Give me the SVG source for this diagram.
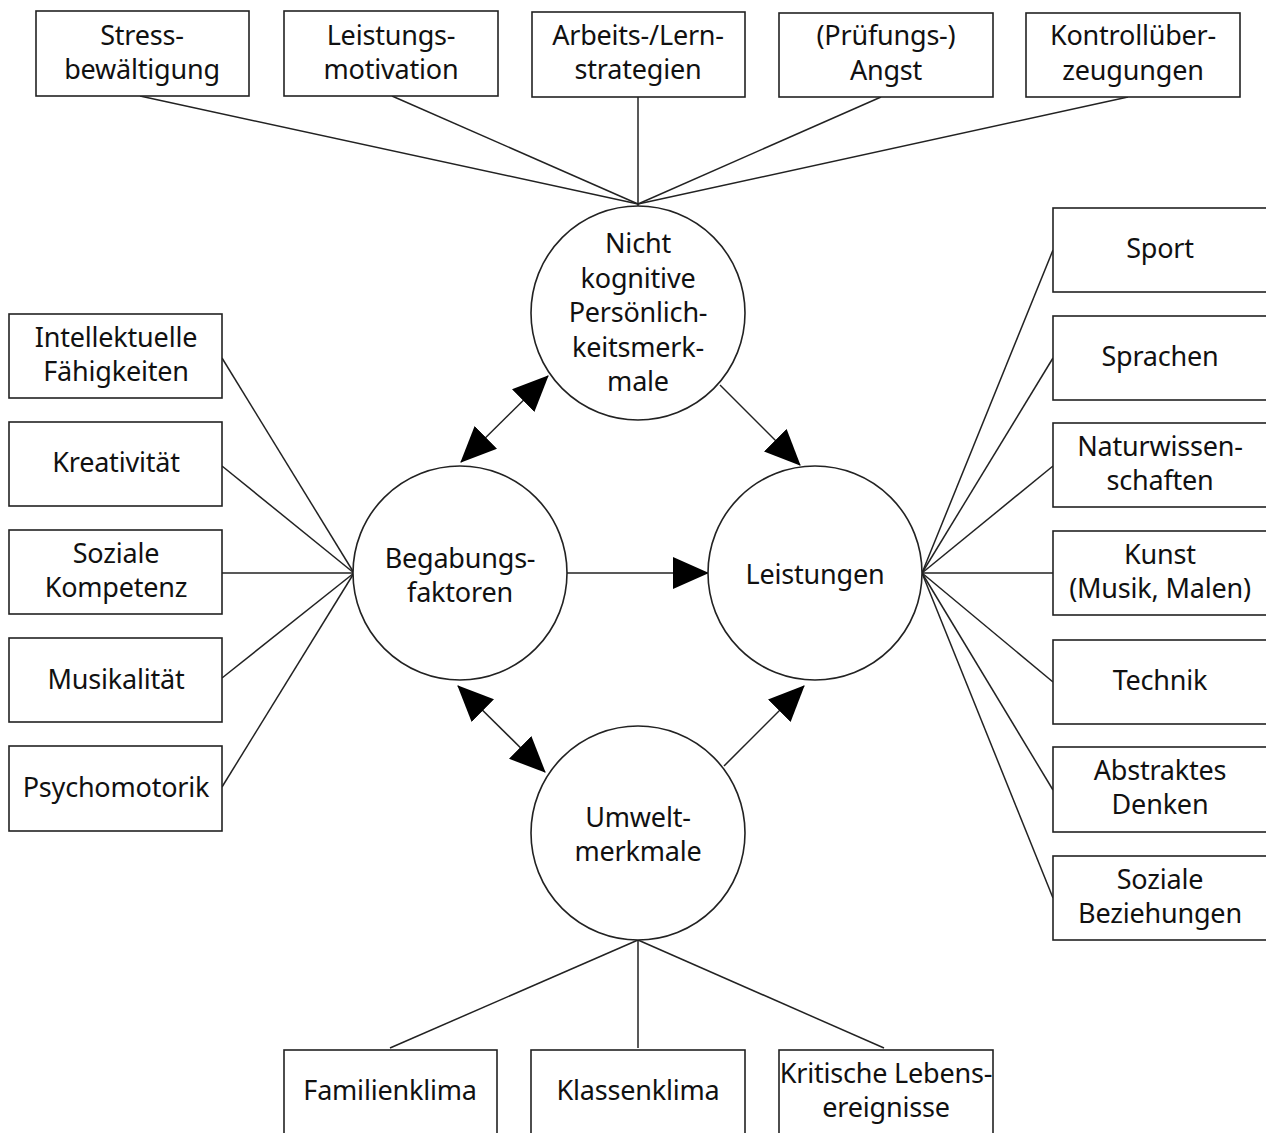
<svg xmlns="http://www.w3.org/2000/svg" width="1266" height="1133" viewBox="0 0 1266 1133">
<style>
.box{fill:#fff;stroke:#222;stroke-width:1.6}
.circ{fill:#fff;stroke:#222;stroke-width:1.6}
.ln{stroke:#222;stroke-width:1.5;fill:none}
.arr{stroke:#222;stroke-width:1.5;fill:none;marker-end:url(#ah)}
.arr2{stroke:#222;stroke-width:1.5;fill:none;marker-end:url(#ah);marker-start:url(#ah)}
text{font-family:"Noto Sans","Open Sans","Liberation Sans",sans-serif;font-size:27px;letter-spacing:-0.2px;fill:#111;text-anchor:middle}
</style>
<defs>
<marker id="ah" markerUnits="userSpaceOnUse" markerWidth="36" markerHeight="32" viewBox="0 0 36 32" refX="35" refY="16" orient="auto-start-reverse">
<path d="M0,0 L36,16 L0,32 Z" fill="#000"/>
</marker>
</defs>
<rect width="1266" height="1133" fill="#fff"/>
<g id="connectors">
<line class="ln" x1="140" y1="96" x2="638" y2="204"/>
<line class="ln" x1="392" y1="96" x2="638" y2="204"/>
<line class="ln" x1="638" y1="96" x2="638" y2="206"/>
<line class="ln" x1="881" y1="97" x2="638" y2="204"/>
<line class="ln" x1="1128" y1="97" x2="638" y2="204"/>
<line class="ln" x1="222" y1="358" x2="354" y2="573"/>
<line class="ln" x1="222" y1="466" x2="354" y2="573"/>
<line class="ln" x1="222" y1="573" x2="354" y2="573"/>
<line class="ln" x1="222" y1="678" x2="354" y2="573"/>
<line class="ln" x1="222" y1="787" x2="354" y2="573"/>
<line class="ln" x1="922" y1="573" x2="1053" y2="250"/>
<line class="ln" x1="922" y1="573" x2="1053" y2="358"/>
<line class="ln" x1="922" y1="573" x2="1053" y2="466"/>
<line class="ln" x1="922" y1="573" x2="1053" y2="573"/>
<line class="ln" x1="922" y1="573" x2="1053" y2="682"/>
<line class="ln" x1="922" y1="573" x2="1053" y2="790"/>
<line class="ln" x1="922" y1="573" x2="1053" y2="898"/>
<line class="ln" x1="638" y1="940" x2="390" y2="1048"/>
<line class="ln" x1="638" y1="940" x2="638" y2="1048"/>
<line class="ln" x1="638" y1="940" x2="884" y2="1048"/>
<line class="arr2" x1="461" y1="462" x2="548" y2="376"/>
<line class="arr" x1="720" y1="385" x2="800" y2="465"/>
<line class="arr" x1="567" y1="573" x2="708" y2="573"/>
<line class="arr2" x1="458" y1="686" x2="545" y2="772"/>
<line class="arr" x1="724" y1="766" x2="804" y2="686"/>
</g>
<g id="n-stress"><rect class="box" x="36" y="11" width="213" height="85"/><text x="142" y="45">Stress-</text><text x="142" y="79">bewältigung</text></g>
<g id="n-leistungsmot"><rect class="box" x="284" y="11" width="214" height="85"/><text x="391" y="45">Leistungs-</text><text x="391" y="79">motivation</text></g>
<g id="n-arbeits"><rect class="box" x="532" y="12" width="213" height="85"/><text x="638" y="45">Arbeits-/Lern-</text><text x="638" y="79">strategien</text></g>
<g id="n-angst"><rect class="box" x="779" y="13" width="214" height="84"/><text x="886" y="45">(Prüfungs-)</text><text x="886" y="80">Angst</text></g>
<g id="n-kontroll"><rect class="box" x="1026" y="13" width="214" height="84"/><text x="1133" y="45">Kontrollüber-</text><text x="1133" y="80">zeugungen</text></g>
<g id="n-nicht"><circle class="circ" cx="638" cy="313" r="107"/><text x="638" y="253">Nicht</text><text x="638" y="288">kognitive</text><text x="638" y="322">Persönlich-</text><text x="638" y="357">keitsmerk-</text><text x="638" y="391">male</text></g>
<g id="n-begabung"><circle class="circ" cx="460" cy="573" r="107"/><text x="460" y="568">Begabungs-</text><text x="460" y="602">faktoren</text></g>
<g id="n-leistungen"><circle class="circ" cx="815" cy="573" r="107"/><text x="815" y="584">Leistungen</text></g>
<g id="n-umwelt"><circle class="circ" cx="638" cy="833" r="107"/><text x="638" y="827">Umwelt-</text><text x="638" y="861">merkmale</text></g>
<g id="n-intellekt"><rect class="box" x="9" y="314" width="213" height="84"/><text x="116" y="347">Intellektuelle</text><text x="116" y="381">Fähigkeiten</text></g>
<g id="n-kreativ"><rect class="box" x="9" y="422" width="213" height="84"/><text x="116" y="472">Kreativität</text></g>
<g id="n-sozkomp"><rect class="box" x="9" y="530" width="213" height="84"/><text x="116" y="563">Soziale</text><text x="116" y="597">Kompetenz</text></g>
<g id="n-musikal"><rect class="box" x="9" y="638" width="213" height="84"/><text x="116" y="689">Musikalität</text></g>
<g id="n-psycho"><rect class="box" x="9" y="746" width="213" height="85"/><text x="116" y="797">Psychomotorik</text></g>
<g id="n-sport"><rect class="box" x="1053" y="208" width="215" height="84"/><text x="1160" y="258">Sport</text></g>
<g id="n-sprachen"><rect class="box" x="1053" y="316" width="215" height="84"/><text x="1160" y="366">Sprachen</text></g>
<g id="n-natur"><rect class="box" x="1053" y="423" width="215" height="84"/><text x="1160" y="456">Naturwissen-</text><text x="1160" y="490">schaften</text></g>
<g id="n-kunst"><rect class="box" x="1053" y="531" width="215" height="84"/><text x="1160" y="564">Kunst</text><text x="1160" y="598">(Musik, Malen)</text></g>
<g id="n-technik"><rect class="box" x="1053" y="640" width="215" height="84"/><text x="1160" y="690">Technik</text></g>
<g id="n-abstrakt"><rect class="box" x="1053" y="747" width="215" height="85"/><text x="1160" y="780">Abstraktes</text><text x="1160" y="814">Denken</text></g>
<g id="n-sozbez"><rect class="box" x="1053" y="856" width="215" height="84"/><text x="1160" y="889">Soziale</text><text x="1160" y="923">Beziehungen</text></g>
<g id="n-familie"><rect class="box" x="284" y="1050" width="213" height="90"/><text x="390" y="1100">Familienklima</text></g>
<g id="n-klasse"><rect class="box" x="531" y="1050" width="214" height="90"/><text x="638" y="1100">Klassenklima</text></g>
<g id="n-kritisch"><rect class="box" x="779" y="1050" width="214" height="90"/><text x="886" y="1083">Kritische Lebens-</text><text x="886" y="1117">ereignisse</text></g>
</svg>
